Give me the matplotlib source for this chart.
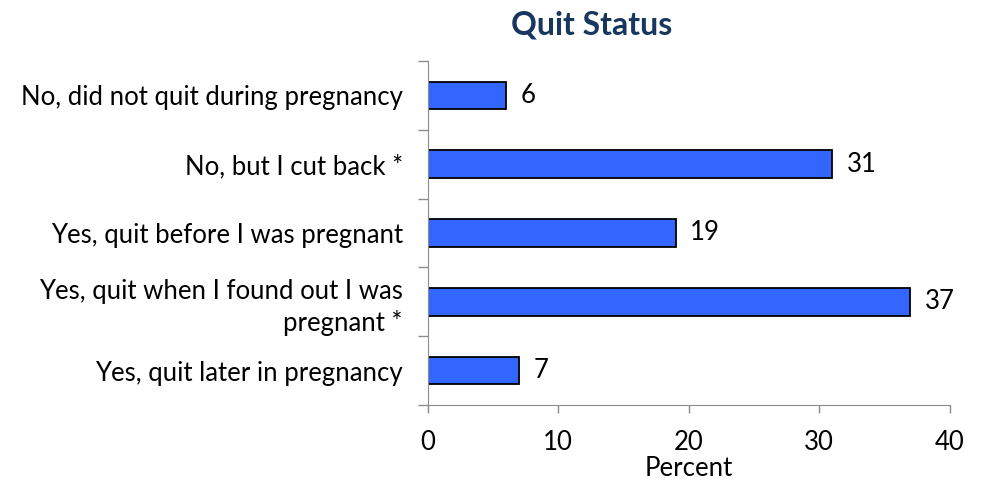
import numpy as np
import matplotlib.pyplot as plt

plt.rcParams['font.family'] = ['Lato', 'DejaVu Sans']

# Datos
categorias = ['No, did not quit during pregnancy',
              'No, but I cut back *',
              'Yes, quit before I was pregnant',
              'Yes, quit when I found out I was\npregnant *',
              'Yes, quit later in pregnancy']
valores = [6, 31, 19, 37, 7]
xticks = [0, 10, 20, 30, 40]

fs = 18.5

fig = plt.figure(figsize=(9.81, 4.83), dpi=100)
ax = fig.add_axes([0.436, 0.1615, 0.532, 0.7125])

y = np.arange(len(categorias))
ax.barh(y, valores, height=0.4, color='#3366FF', edgecolor='black', linewidth=1.3)

for yi, v in zip(y, valores):
    ax.text(v + 1.1, yi, str(v), va='center', ha='left', fontsize=fs)

ax.set_ylim(len(categorias) - 0.5, -0.5)
ax.set_xlim(0, 40)
ax.set_xticks(xticks)
ax.set_xticklabels([str(t) for t in xticks], fontsize=fs)
ax.set_yticks(y)
ax.set_yticklabels(categorias, fontsize=fs, ha='right', multialignment='right',
                   linespacing=1.3)
ax.tick_params(axis='y', length=0, pad=18)
ax.set_yticks(np.arange(-0.5, len(categorias)), minor=True)
ax.tick_params(axis='y', which='minor', length=7, color='#8c8c8c', width=1)
ax.tick_params(axis='x', length=6, color='#8c8c8c', width=1, pad=12)
ax.set_xlabel('Percent', fontsize=fs, labelpad=1)

for s in ['top', 'right']:
    ax.spines[s].set_visible(False)
for s in ['left', 'bottom']:
    ax.spines[s].set_color('#8c8c8c')

fig.text(0.603, 0.948, 'Quit Status', ha='center', va='center',
         fontsize=23, fontweight='bold', color='#17375E')

fig.savefig('out.png', dpi=100)
